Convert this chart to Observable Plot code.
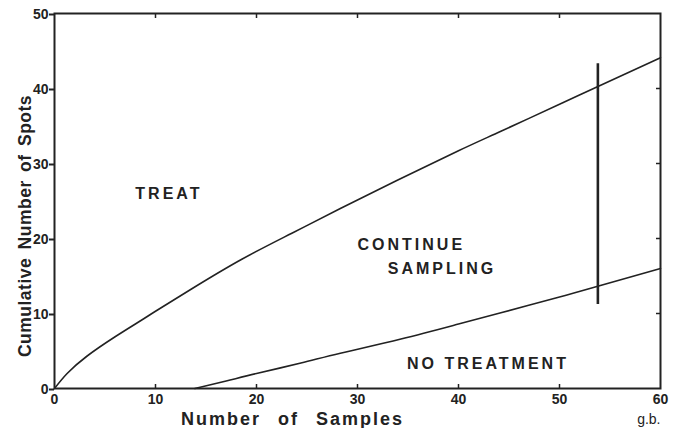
<!DOCTYPE html>
<html><head><meta charset="utf-8">
<script src="https://cdn.jsdelivr.net/npm/d3@7"></script>
<script src="https://cdn.jsdelivr.net/npm/@observablehq/plot@0.6"></script>
<style>
body{margin:0;background:#fff}
svg{font-family:"Liberation Sans",Arial,sans-serif;font-weight:bold;color:#222}
</style>
</head><body>
<div id="chart"></div>
<script>
const xTicks = [0, 10, 20, 30, 40, 50, 60];
const yTicks = [0, 10, 20, 30, 40, 50];
const innerXTicks = [10, 20, 30, 40, 50];
const innerYTicks = [10, 20, 30, 40];

// Upper boundary (TREAT line)
const upperX = [0, 1.25, 3.2, 6, 8.6, 10, 13.6, 18.5, 23.5, 28.3, 34.3, 40, 44.2, 50, 53.7, 60];
const upperY = [0, 2.0, 4.3, 6.9, 9.1, 10.3, 13.3, 17.2, 20.7, 24, 28.0, 31.7, 34.3, 37.9, 40.2, 44.1];

// Lower boundary (NO TREATMENT line)
const lowerX = [13.9, 17, 20, 24.4, 28.3, 34.3, 40, 44.2, 50, 53.7, 60];
const lowerY = [0, 1.0, 2.0, 3.4, 4.7, 6.6, 8.6, 10.1, 12.2, 13.6, 16];

// Vertical truncation bar
const barX = [53.8];
const barY1 = [11.2];
const barY2 = [43.3];

// Region labels
const labels = ["TREAT", "CONTINUE", "SAMPLING", "NO TREATMENT"];
const labelX = [8.0, 30.0, 33.0, 34.9];
const labelY = [25.9, 19.1, 15.9, 3.3];

const xTitle = "Number of Samples";
const yTitle = "Cumulative Number of Spots";
const credit = "g.b.";

const upper = upperX.map((x, i) => ({x, y: upperY[i]}));
const lower = lowerX.map((x, i) => ({x, y: lowerY[i]}));
const bar = barX.map((x, i) => ({x, y1: barY1[i], y2: barY2[i]}));
const regions = labels.map((t, i) => ({t, x: labelX[i], y: labelY[i]}));

const ink = "#222";

const chart = Plot.plot({
  width: 675,
  height: 428,
  marginLeft: 54,
  marginRight: 15,
  marginTop: 13,
  marginBottom: 40,
  x: {domain: [0, 60]},
  y: {domain: [0, 50]},
  style: {fontSize: "14px", color: ink, background: "#fff"},
  marks: [
    Plot.axisY({anchor: "left", ticks: yTicks, tickSize: 5, tickPadding: 1, strokeWidth: 2, label: null, fontSize: 14, dy: 1}),
    Plot.axisY({anchor: "right", ticks: innerYTicks, tickSize: 5, dx: -5, strokeWidth: 1.5, tickFormat: () => "", label: null}),
    Plot.axisX({anchor: "top", ticks: innerXTicks, tickSize: 4, dy: 4, strokeWidth: 1.5, tickFormat: () => "", label: null}),
    Plot.axisX({anchor: "bottom", ticks: innerXTicks, tickSize: 4, dy: -4, strokeWidth: 1.5, tickFormat: () => "", label: null}),
    Plot.axisX({anchor: "bottom", ticks: xTicks, tickSize: 0, tickPadding: 6, label: null, fontSize: 14}),
    Plot.frame({stroke: ink, strokeWidth: 2}),
    Plot.line(upper, {x: "x", y: "y", curve: "natural", stroke: ink, strokeWidth: 1.6}),
    Plot.line(lower, {x: "x", y: "y", curve: "natural", stroke: ink, strokeWidth: 1.6}),
    Plot.ruleX(bar, {x: "x", y1: "y1", y2: "y2", stroke: ink, strokeWidth: 2.6}),
    Plot.text(regions, {x: "x", y: "y", text: "t", textAnchor: "start", fontSize: 16, fontWeight: "bold", fill: ink}),
    Plot.text([xTitle], {text: d => d, frameAnchor: "bottom", textAnchor: "middle", lineAnchor: "middle", dx: -65, dy: 31, fontSize: 18, fontWeight: "bold", fill: ink}),
    Plot.text([yTitle], {text: d => d, frameAnchor: "left", textAnchor: "middle", rotate: -90, dx: -29, dy: 25, fontSize: 17.5, fontWeight: "bold", fill: ink}),
    Plot.text([credit], {text: d => d, frameAnchor: "bottom-right", textAnchor: "end", lineAnchor: "middle", dy: 31, fontSize: 14, fontWeight: "normal", fill: ink})
  ]
});
const svg = d3.select(chart);
svg.selectAll("text").each(function() {
  const t = this.textContent;
  const s = d3.select(this);
  if (labels.includes(t)) s.style("letter-spacing", "3px");
  else if (t === xTitle) s.style("letter-spacing", "2px").style("word-spacing", "10px");
  else if (t === yTitle) s.style("letter-spacing", "0.5px").style("word-spacing", "3px");
});
document.getElementById("chart").appendChild(chart);
</script>
</body></html>
